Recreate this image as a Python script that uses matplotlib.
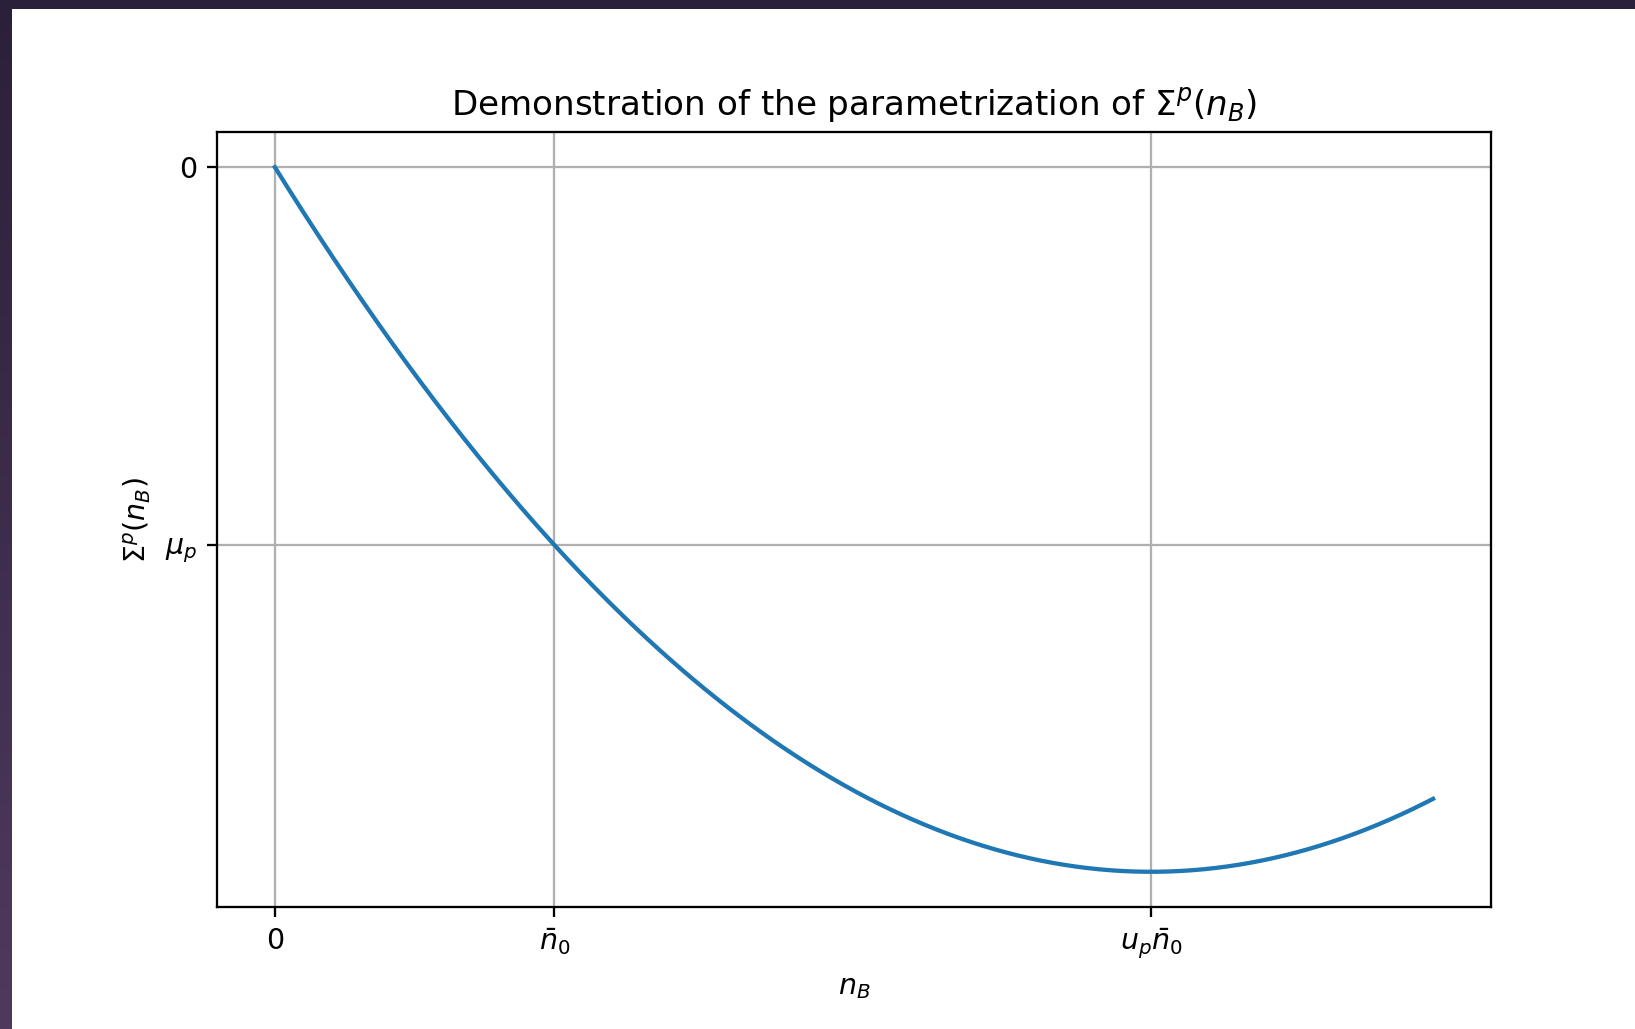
import numpy as np
import matplotlib
matplotlib.use("Agg")
import matplotlib.pyplot as plt

# Parameters of the quadratic self-energy parametrization
n0 = 0.16          # saturation density  \bar{n}_0
u_p = 3.135        # position of the minimum in units of n0
mu_p = -1.0        # value of Sigma^p at n0
n_max = 0.663      # upper end of the density grid

x_tick_labels = ["0", r"$\bar{n}_0$", r"$u_p\bar{n}_0$"]
y_tick_labels = [r"$\mu_p$", "0"]

n_B = np.linspace(0.0, n_max, 400)
# Sigma(0) = 0, Sigma(n0) = mu_p, minimum at u_p * n0
sigma = mu_p * (n_B**2 - 2.0 * u_p * n0 * n_B) / (n0**2 - 2.0 * u_p * n0**2)

W, H, DPI = 1635, 1029, 205
fig = plt.figure(figsize=(W / DPI, H / DPI), dpi=DPI)
fig.patch.set_facecolor("white")

# Dark frame around the white canvas
bg = fig.add_axes([0, 0, 1, 1], zorder=-5)
bg.set_xlim(0, W)
bg.set_ylim(H, 0)
bg.axis("off")
top_col = np.array([0x2b, 0x20, 0x39]) / 255.0
bot_col = np.array([0x4f, 0x3a, 0x5e]) / 255.0
t = np.linspace(0, 1, 256)[:, None]
grad = (top_col[None, :] * (1 - t) + bot_col[None, :] * t)[:, None, :]
bg.imshow(grad, extent=(0, 12, H, 0), aspect="auto", interpolation="bilinear")
bg.add_patch(plt.Rectangle((0, 0), W, 9, color=top_col, lw=0))

ax = fig.add_axes([217 / W, (H - 907) / H, (1491 - 217) / W, (907 - 132) / H])
ax.plot(n_B, sigma, color="#1f77b4", lw=1.5)
ax.set_xticks([0.0, n0, u_p * n0])
ax.set_xticklabels(x_tick_labels)
ax.set_yticks([mu_p, 0.0])
ax.set_yticklabels(y_tick_labels)
ax.grid(True)
ax.set_xlabel(r"$n_B$")
ax.set_ylabel(r"$\Sigma^p(n_B)$")
ax.set_title(r"Demonstration of the parametrization of $\Sigma^p(n_B)$")

fig.savefig("out.png", dpi=DPI)
